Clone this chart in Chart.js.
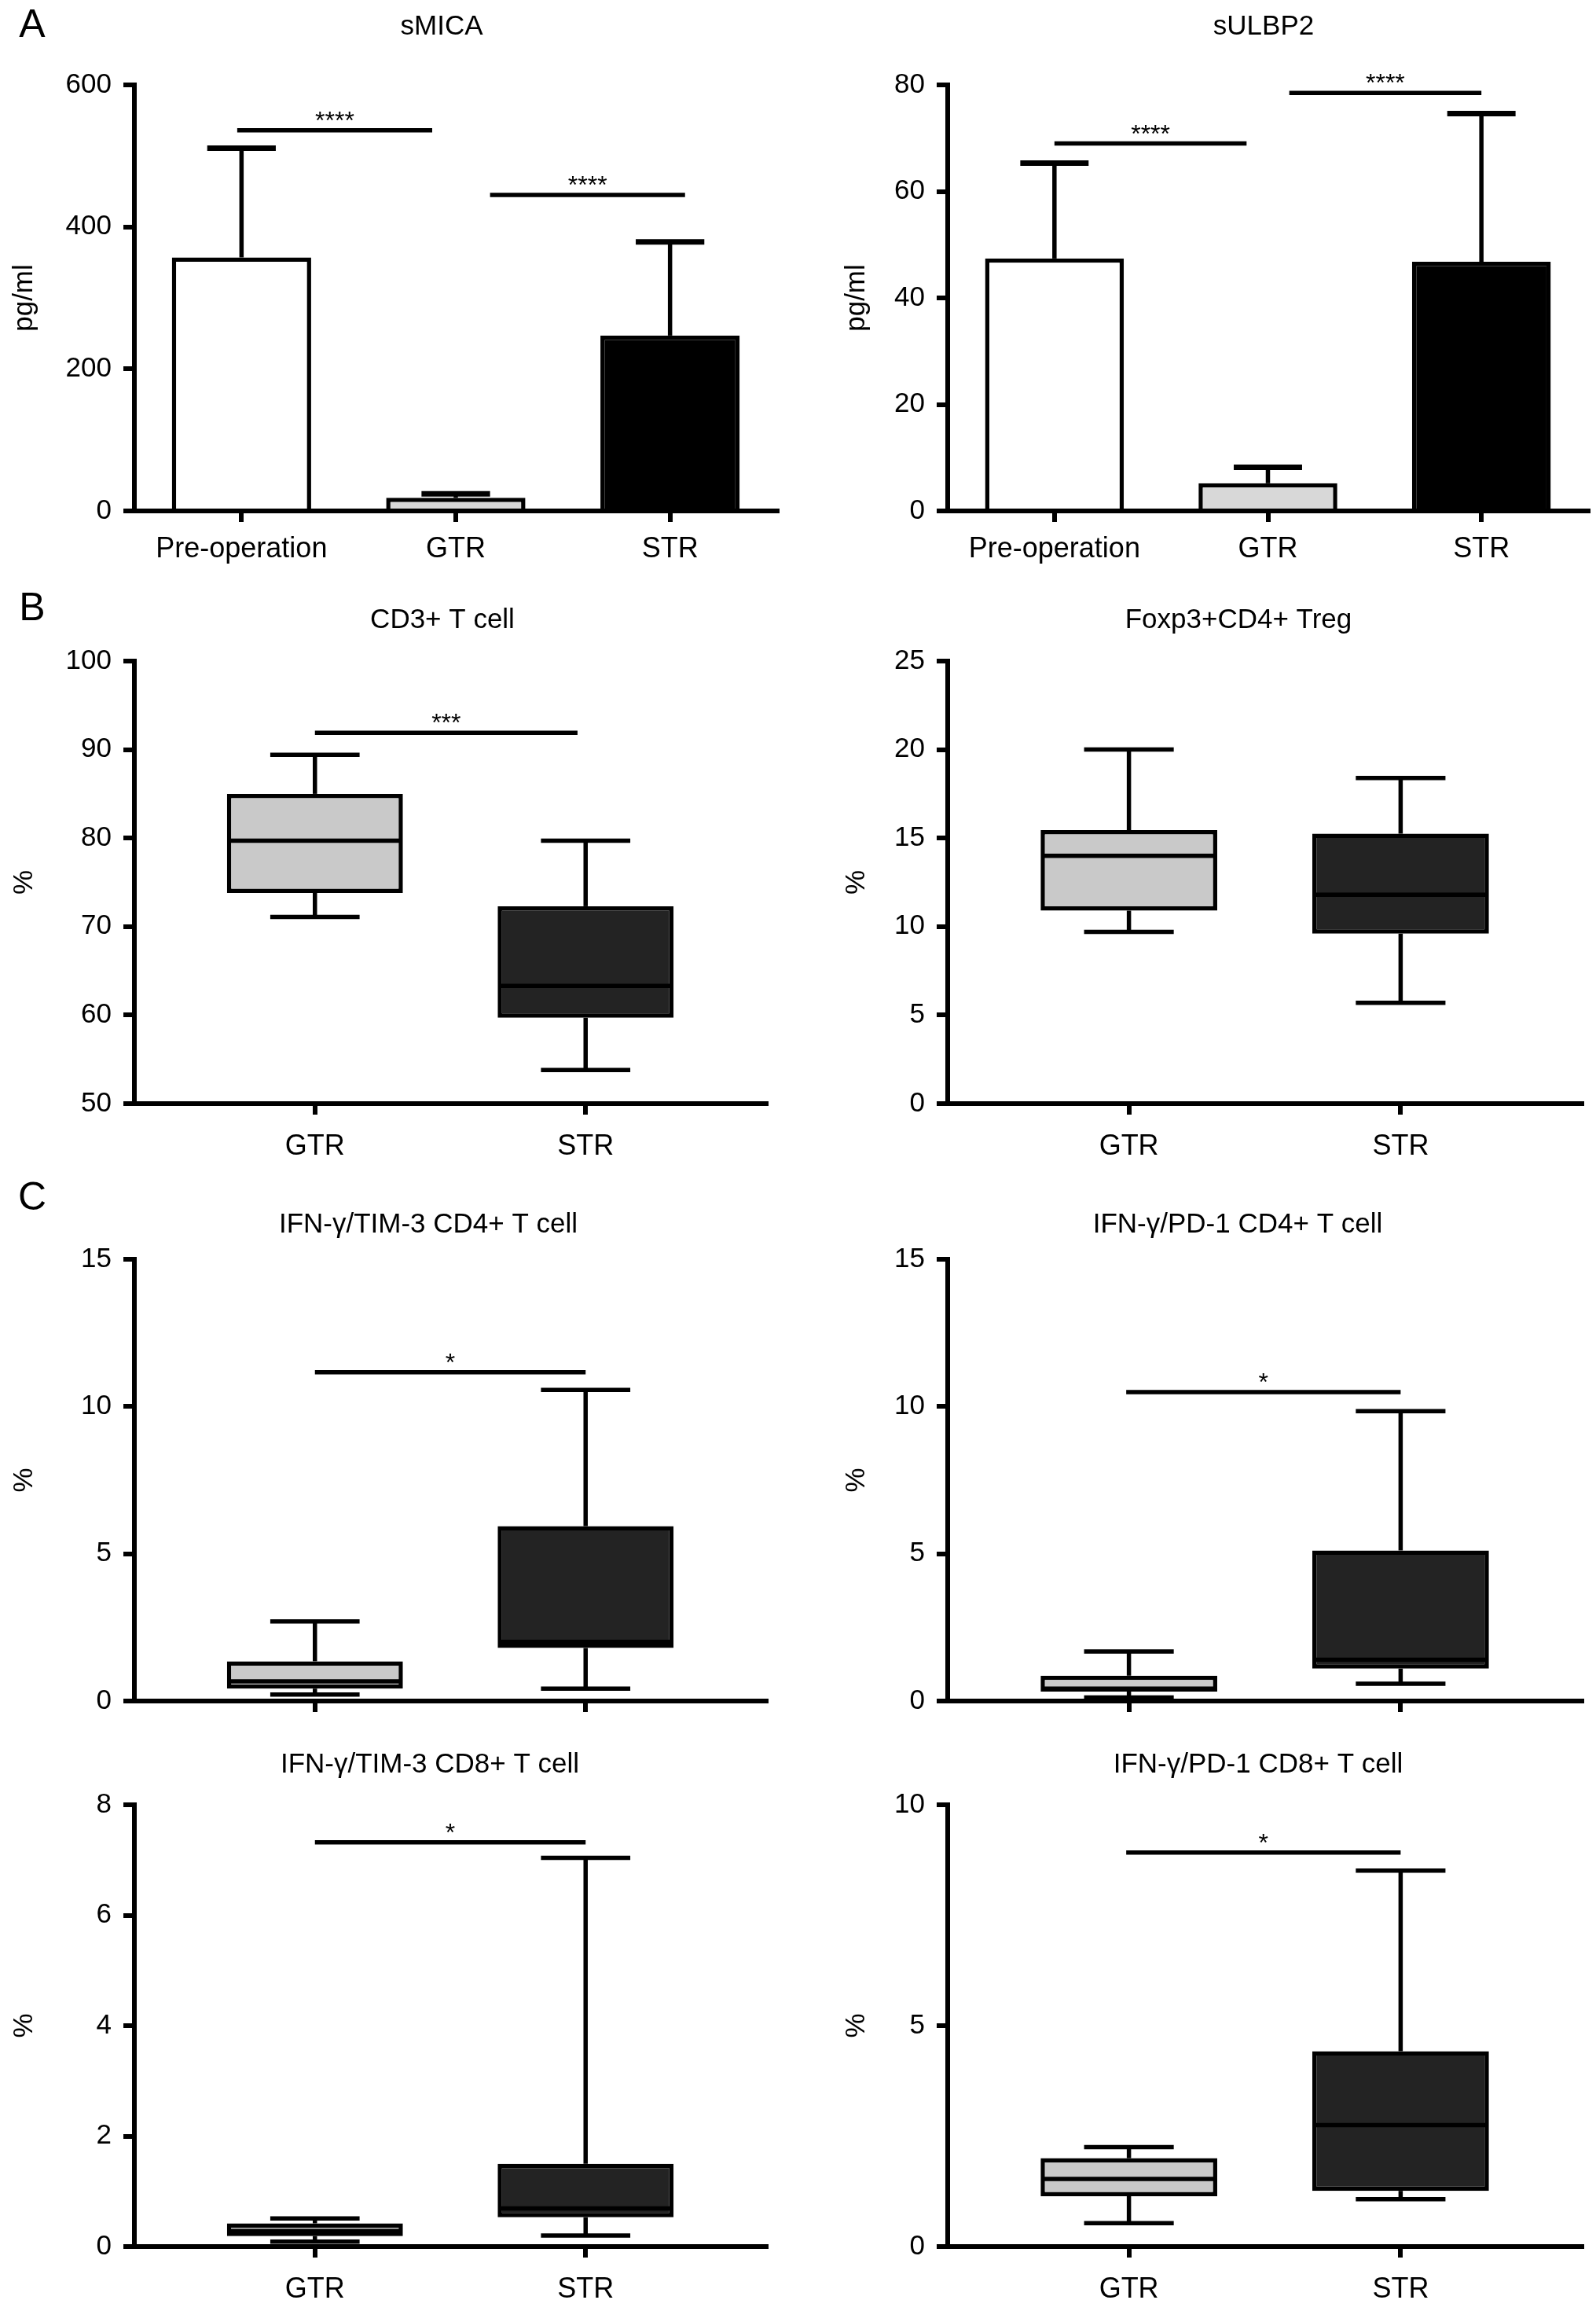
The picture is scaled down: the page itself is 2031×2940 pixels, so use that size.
<!DOCTYPE html>
<html>
<head>
<meta charset="utf-8">
<script src="https://cdn.jsdelivr.net/npm/chart.js@4.4.1/dist/chart.umd.min.js"></script>
<style>
  html, body { margin: 0; padding: 0; background: #fff; }
  #page { position: relative; width: 2031px; height: 2940px; overflow: hidden; background: #fff; }
  canvas { position: absolute; }
</style>
</head>
<body>
<div id="page"></div>
<script>
// ---------------- data ----------------
const groupsA = ["Pre-operation", "GTR", "STR"];
const groupsB = ["GTR", "STR"];

// panel A: mean and SD (pg/ml)
const smicaMean  = [357, 18.5, 247];
const smicaSd    = [154, 5.5, 132];
const sulbp2Mean = [47.4, 5.2, 46.8];
const sulbp2Sd   = [17.9, 3.0, 27.8];

// panels B / C: [min, q1, median, q3, max] (%)
const cd3Gtr     = [71.1, 73.8, 79.7, 85.0, 89.4];
const cd3Str     = [53.8, 59.7, 63.3, 72.3, 79.7];
const foxp3Gtr   = [9.7, 10.9, 14.0, 15.45, 20.0];
const foxp3Str   = [5.7, 9.6, 11.8, 15.25, 18.4];
const tim3Cd4Gtr = [0.22, 0.42, 0.67, 1.35, 2.7];
const tim3Cd4Str = [0.42, 1.80, 2.01, 5.94, 10.56];
const pd1Cd4Gtr  = [0.12, 0.32, 0.42, 0.86, 1.68];
const pd1Cd4Str  = [0.59, 1.10, 1.40, 5.11, 9.84];
const tim3Cd8Gtr = [0.09, 0.19, 0.28, 0.42, 0.51];
const tim3Cd8Str = [0.20, 0.53, 0.69, 1.50, 7.04];
const pd1Cd8Gtr  = [0.53, 1.14, 1.53, 2.00, 2.25];
const pd1Cd8Str  = [1.07, 1.26, 2.75, 4.42, 8.51];

// y tick labels
const ticksSmica   = [0, 200, 400, 600];
const ticksSulbp2  = [0, 20, 40, 60, 80];
const ticksCd3     = [50, 60, 70, 80, 90, 100];
const ticksFoxp3   = [0, 5, 10, 15, 20, 25];
const ticksTim3Cd4 = [0, 5, 10, 15];
const ticksPd1Cd4  = [0, 5, 10, 15];
const ticksTim3Cd8 = [0, 2, 4, 6, 8];
const ticksPd1Cd8  = [0, 5, 10];

// significance bars: [from group, to group, height, label]
const sigSmica   = [[-0.02, 0.89, 536, "****"], [1.16, 2.07, 445, "****"]];
const sigSulbp2  = [[0, 0.9, 69.0, "****"], [1.1, 2.0, 78.5, "****"]];
const sigCd3     = [[0, 0.97, 91.9, "***"]];
const sigTim3Cd4 = [[0, 1, 11.16, "*"]];
const sigPd1Cd4  = [[-0.01, 1, 10.49, "*"]];
const sigTim3Cd8 = [[0, 1, 7.32, "*"]];
const sigPd1Cd8  = [[-0.01, 1, 8.92, "*"]];

// ---------------- styling ----------------
const FONT = "'Liberation Sans', Arial, Helvetica, sans-serif";
const AXIS_W = 6;
const LW = 5.5;
const barColors = ["#ffffff", "#d8d8d8", "#000000"];
const boxColors = ["#c9c9c9", "#232323"];

Chart.defaults.font.family = FONT;
Chart.defaults.font.size = 35;
Chart.defaults.color = "#000";
Chart.defaults.animation = false;

// page layout (pixels)
const rows = [
  { y: 0,    h: 740, top: 108, xh: 90, lp: 13 },
  { y: 740,  h: 760, top: 101, xh: 96, lp: 19 },
  { y: 1500, h: 700, top: 102, xh: 35, lp: 19 },
  { y: 2200, h: 740, top: 96,  xh: 82, lp: 19 }
];
const cols = [
  { x: 0,    w: 1015, yw: 171, tp: 10 },
  { x: 1015, w: 1016, yw: 191, tp: 54 }
];

function addCanvas(x, y, w, h) {
  const c = document.createElement("canvas");
  c.width = w; c.height = h;
  c.style.left = x + "px"; c.style.top = y + "px";
  c.style.width = w + "px"; c.style.height = h + "px";
  document.getElementById("page").appendChild(c);
  return c;
}

// draws error bars, whiskers, medians, significance bars, titles
const decorPlugin = {
  id: "decor",
  afterDatasetsDraw(chart, args, o) {
    const ctx = chart.ctx, xs = chart.scales.x, ys = chart.scales.y;
    const meta = chart.getDatasetMeta(0);
    const step = Math.abs(xs.getPixelForValue(1) - xs.getPixelForValue(0));
    const line = (x1, y1, x2, y2) => { ctx.beginPath(); ctx.moveTo(x1, y1); ctx.lineTo(x2, y2); ctx.stroke(); };
    ctx.save();
    ctx.strokeStyle = "#000";
    ctx.lineWidth = LW;

    (o.sd || []).forEach((sd, i) => {
      const el = meta.data[i];
      const yBar = ys.getPixelForValue(o.mean[i]);
      const yTop = ys.getPixelForValue(o.mean[i] + sd);
      line(el.x, yBar, el.x, yTop);
      ctx.lineWidth = LW + 1.5;
      line(el.x - step * 0.16, yTop, el.x + step * 0.16, yTop);
      ctx.lineWidth = LW;
    });

    (o.boxes || []).forEach((b, i) => {
      const el = meta.data[i];
      const half = el.width / 2;
      const [mn, q1, md, q3, mx] = b.map(v => ys.getPixelForValue(v));
      line(el.x, q3, el.x, mx);
      line(el.x, q1, el.x, mn);
      line(el.x - step * 0.165, mx, el.x + step * 0.165, mx);
      line(el.x - step * 0.165, mn, el.x + step * 0.165, mn);
      line(el.x - half + 2, md, el.x + half - 2, md);
    });

    ctx.fillStyle = "#000";
    ctx.font = "32px " + FONT;
    ctx.textAlign = "center";
    ctx.textBaseline = "alphabetic";
    (o.sig || []).forEach(([a, b, v, txt]) => {
      const y = ys.getPixelForValue(v);
      const x1 = xs.getPixelForValue(a), x2 = xs.getPixelForValue(b);
      line(x1, y, x2, y);
      ctx.fillText(txt, (x1 + x2) / 2, y - 2);
    });
    ctx.restore();
  },
  afterDraw(chart, args, o) {
    const ctx = chart.ctx;
    ctx.save();
    ctx.fillStyle = "#000";
    ctx.textAlign = "center";
    ctx.textBaseline = "middle";
    ctx.font = "35px " + FONT;
    ctx.fillText(o.title, o.titleX, o.titleY);
    if (o.letter) {
      ctx.font = "50px " + FONT;
      ctx.fillText(o.letter, 41, o.letterY);
    }
    ctx.restore();
  }
};

function yAxis(col, ticks, min, max, label) {
  return {
    type: "linear",
    min: min, max: max,
    afterFit: s => { s.width = col.yw; },
    afterBuildTicks: s => { s.ticks = ticks.map(v => ({ value: v })); },
    ticks: { padding: 15, font: { size: 35 }, color: "#000" },
    grid: { display: true, drawOnChartArea: false, drawTicks: true, tickLength: 14, lineWidth: AXIS_W, color: "#000" },
    border: { display: true, width: AXIS_W, color: "#000" },
    title: { display: true, text: label, font: { size: 35 }, color: "#000", padding: { top: col.tp, bottom: 0 } }
  };
}

function xGrid() {
  return { display: true, drawOnChartArea: false, drawTicks: true, tickLength: 14, lineWidth: AXIS_W, color: "#000", offset: false };
}

function barPanel(ci, ri, cfg) {
  const col = cols[ci], row = rows[ri];
  const c = addCanvas(col.x, row.y, col.w, row.h);
  new Chart(c, {
    type: "bar",
    data: {
      labels: groupsA,
      datasets: [{
        data: cfg.mean,
        backgroundColor: barColors,
        borderColor: "#000",
        borderWidth: LW,
        borderSkipped: "start",
        barPercentage: 0.65,
        categoryPercentage: 1.0
      }]
    },
    options: {
      responsive: false,
      devicePixelRatio: 1,
      layout: { padding: { top: row.top, left: 0, right: cfg.padRight, bottom: 0 } },
      plugins: {
        legend: { display: false },
        tooltip: { enabled: false },
        decor: { mean: cfg.mean, sd: cfg.sd, sig: cfg.sig, title: cfg.title, titleX: cfg.titleX - col.x,
                 titleY: cfg.titleY - row.y, letter: cfg.letter, letterY: cfg.letterY - row.y }
      },
      scales: {
        x: {
          type: "category",
          offset: true,
          afterFit: s => { s.height = row.xh; },
          ticks: { padding: row.lp, maxRotation: 0, minRotation: 0, autoSkip: false, font: { size: 36 }, color: "#000" },
          grid: xGrid(),
          border: { display: true, width: AXIS_W, color: "#000" }
        },
        y: yAxis(col, cfg.ticks, cfg.min, cfg.max, "pg/ml")
      }
    },
    plugins: [decorPlugin]
  });
}

function boxPanel(ci, ri, cfg) {
  const col = cols[ci], row = rows[ri];
  const c = addCanvas(col.x, row.y, col.w, row.h);
  const boxes = [cfg.gtr, cfg.str];
  new Chart(c, {
    type: "bar",
    data: {
      datasets: [{
        data: boxes.map((b, i) => ({ x: i, y: [b[1], b[3]] })),
        backgroundColor: boxColors,
        borderColor: "#000",
        borderWidth: LW,
        borderSkipped: false,
        barPercentage: 0.65,
        categoryPercentage: 1.0
      }]
    },
    options: {
      responsive: false,
      devicePixelRatio: 1,
      layout: { padding: { top: row.top, left: 0, right: cfg.padRight, bottom: 0 } },
      plugins: {
        legend: { display: false },
        tooltip: { enabled: false },
        decor: { boxes: boxes, sig: cfg.sig, title: cfg.title, titleX: cfg.titleX - col.x,
                 titleY: cfg.titleY - row.y, letter: cfg.letter, letterY: cfg.letterY - row.y }
      },
      scales: {
        x: {
          type: "linear",
          min: -0.667, max: 1.667,
          offset: false,
          afterFit: s => { s.height = row.xh; },
          afterBuildTicks: s => { s.ticks = [{ value: 0 }, { value: 1 }]; },
          ticks: {
            display: cfg.showLabels,
            padding: row.lp, maxRotation: 0, minRotation: 0, autoSkip: false,
            font: { size: 36 }, color: "#000",
            callback: v => groupsB[v]
          },
          grid: xGrid(),
          border: { display: true, width: AXIS_W, color: "#000" }
        },
        y: yAxis(col, cfg.ticks, cfg.min, cfg.max, "%")
      }
    },
    plugins: [decorPlugin]
  });
}

// ---------------- panels ----------------
barPanel(0, 0, { mean: smicaMean, sd: smicaSd, sig: sigSmica, ticks: ticksSmica, min: 0, max: 600,
  title: "sMICA", titleX: 562, titleY: 34, letter: "A", letterY: 33, padRight: 26 });
barPanel(1, 0, { mean: sulbp2Mean, sd: sulbp2Sd, sig: sigSulbp2, ticks: ticksSulbp2, min: 0, max: 80,
  title: "sULBP2", titleX: 1608, titleY: 34, padRight: 10 });

boxPanel(0, 1, { gtr: cd3Gtr, str: cd3Str, sig: sigCd3, ticks: ticksCd3, min: 50, max: 100, showLabels: true,
  title: "CD3+ T cell", titleX: 563, titleY: 789, letter: "B", letterY: 775, padRight: 40 });
boxPanel(1, 1, { gtr: foxp3Gtr, str: foxp3Str, sig: [], ticks: ticksFoxp3, min: 0, max: 25, showLabels: true,
  title: "Foxp3+CD4+ Treg", titleX: 1576, titleY: 789, padRight: 18 });

boxPanel(0, 2, { gtr: tim3Cd4Gtr, str: tim3Cd4Str, sig: sigTim3Cd4, ticks: ticksTim3Cd4, min: 0, max: 15, showLabels: false,
  title: "IFN-\u03b3/TIM-3 CD4+ T cell", titleX: 545, titleY: 1558, letter: "C", letterY: 1525, padRight: 40 });
boxPanel(1, 2, { gtr: pd1Cd4Gtr, str: pd1Cd4Str, sig: sigPd1Cd4, ticks: ticksPd1Cd4, min: 0, max: 15, showLabels: false,
  title: "IFN-\u03b3/PD-1 CD4+ T cell", titleX: 1575, titleY: 1558, padRight: 18 });

boxPanel(0, 3, { gtr: tim3Cd8Gtr, str: tim3Cd8Str, sig: sigTim3Cd8, ticks: ticksTim3Cd8, min: 0, max: 8, showLabels: true,
  title: "IFN-\u03b3/TIM-3 CD8+ T cell", titleX: 547, titleY: 2245, padRight: 40 });
boxPanel(1, 3, { gtr: pd1Cd8Gtr, str: pd1Cd8Str, sig: sigPd1Cd8, ticks: ticksPd1Cd8, min: 0, max: 10, showLabels: true,
  title: "IFN-\u03b3/PD-1 CD8+ T cell", titleX: 1601, titleY: 2245, padRight: 18 });
</script>
</body>
</html>
